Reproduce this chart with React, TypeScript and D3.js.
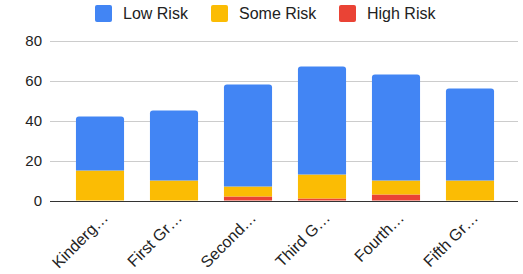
import React, { useEffect, useRef } from 'react';
import * as d3 from 'd3';

const grades = ['Kindergarten', 'First Grade', 'Second Grade', 'Third Grade', 'Fourth Grade', 'Fifth Grade'];
const gradeLabels = ['Kinderg…', 'First Gr…', 'Second…', 'Third G…', 'Fourth…', 'Fifth Gr…'];
const highRisk = [0, 0, 2, 1, 3, 0];
const someRisk = [15, 10, 5, 12, 7, 10];
const lowRisk = [27, 35, 51, 54, 53, 46];
const yTicks = [0, 20, 40, 60, 80];

const seriesNames = ['Low Risk', 'Some Risk', 'High Risk'];
const seriesColors = ['#4285F4', '#FBBC04', '#EA4335'];

function App() {
    const svgRef = useRef<SVGSVGElement>(null);

    useEffect(() => {
        const font = 'Arial, "Liberation Sans", sans-serif';

        const svg = d3.select(svgRef.current);
        svg.selectAll('*').remove();

        const x = d3.scaleBand<string>()
            .domain(grades)
            .range([63, 507])
            .paddingInner(0.35)
            .paddingOuter(0.175);

        const y = d3.scaleLinear()
            .domain([0, 80])
            .range([200.5, 40.5]);

        // gridlines
        svg.append('g')
            .selectAll('line')
            .data(yTicks.filter(t => t !== 0))
            .enter()
            .append('line')
            .attr('x1', 50)
            .attr('x2', 518)
            .attr('y1', d => Math.round(y(d)) + 0.5)
            .attr('y2', d => Math.round(y(d)) + 0.5)
            .attr('stroke', '#cccccc')
            .attr('stroke-width', 1);

        // y labels
        svg.append('g')
            .selectAll('text')
            .data(yTicks)
            .enter()
            .append('text')
            .attr('x', 42)
            .attr('y', d => y(d) + 5)
            .attr('text-anchor', 'end')
            .style('font-family', font)
            .style('font-size', '15px')
            .attr('fill', '#222')
            .text(d => d);

        // stacked bars: high at bottom, some in middle, low on top
        const rows = grades.map((g, i) => ({ grade: g, high: highRisk[i], some: someRisk[i], low: lowRisk[i] }));
        const stack = d3.stack<any>().keys(['high', 'some', 'low']);
        const layers = stack(rows);
        const layerColor: Record<string, string> = { high: seriesColors[2], some: seriesColors[1], low: seriesColors[0] };

        layers.forEach(layer => {
            const g = svg.append('g');
            layer.forEach((seg, i) => {
                if (seg[1] - seg[0] <= 0) return;
                const x0 = x(grades[i]) as number;
                const w = x.bandwidth();
                const top = y(seg[1]);
                const bot = y(seg[0]);
                if (layer.key === 'low') {
                    // rounded top corners on the top segment
                    const r = 3;
                    const p = d3.path();
                    p.moveTo(x0, bot);
                    p.lineTo(x0, top + r);
                    p.quadraticCurveTo(x0, top, x0 + r, top);
                    p.lineTo(x0 + w - r, top);
                    p.quadraticCurveTo(x0 + w, top, x0 + w, top + r);
                    p.lineTo(x0 + w, bot);
                    p.closePath();
                    g.append('path').attr('d', p.toString()).attr('fill', layerColor[layer.key]);
                } else {
                    g.append('rect')
                        .attr('x', x0)
                        .attr('y', top)
                        .attr('width', w)
                        .attr('height', bot - top)
                        .attr('fill', layerColor[layer.key]);
                }
            });
        });

        // baseline
        svg.append('line')
            .attr('x1', 50)
            .attr('x2', 518)
            .attr('y1', Math.round(y(0)) + 0.5)
            .attr('y2', Math.round(y(0)) + 0.5)
            .attr('stroke', '#333')
            .attr('stroke-width', 1);

        // x labels
        svg.append('g')
            .selectAll('text')
            .data(grades)
            .enter()
            .append('text')
            .attr('transform', (d) => `translate(${(x(d) as number) + x.bandwidth() / 2 + 9}, 219) rotate(-45)`)
            .attr('text-anchor', 'end')
            .style('font-family', font)
            .style('font-size', '16px')
            .attr('fill', '#222')
            .text((d, i) => gradeLabels[i]);

        // legend
        const legendX = [95, 211, 339];
        const legend = svg.append('g');
        seriesNames.forEach((name, i) => {
            legend.append('rect')
                .attr('x', legendX[i])
                .attr('y', 5)
                .attr('width', 17)
                .attr('height', 17)
                .attr('rx', 2)
                .attr('fill', seriesColors[i]);
            legend.append('text')
                .attr('x', legendX[i] + 28)
                .attr('y', 19)
                .style('font-family', font)
                .style('font-size', '16px')
                .attr('fill', '#222')
                .text(name);
        });
    }, []);

    return (
        <svg
            ref={svgRef}
            width={523}
            height={274}
            style={{ position: 'absolute', left: 0, top: 0, background: '#fff' }}
        />
    );
}

export default App;
